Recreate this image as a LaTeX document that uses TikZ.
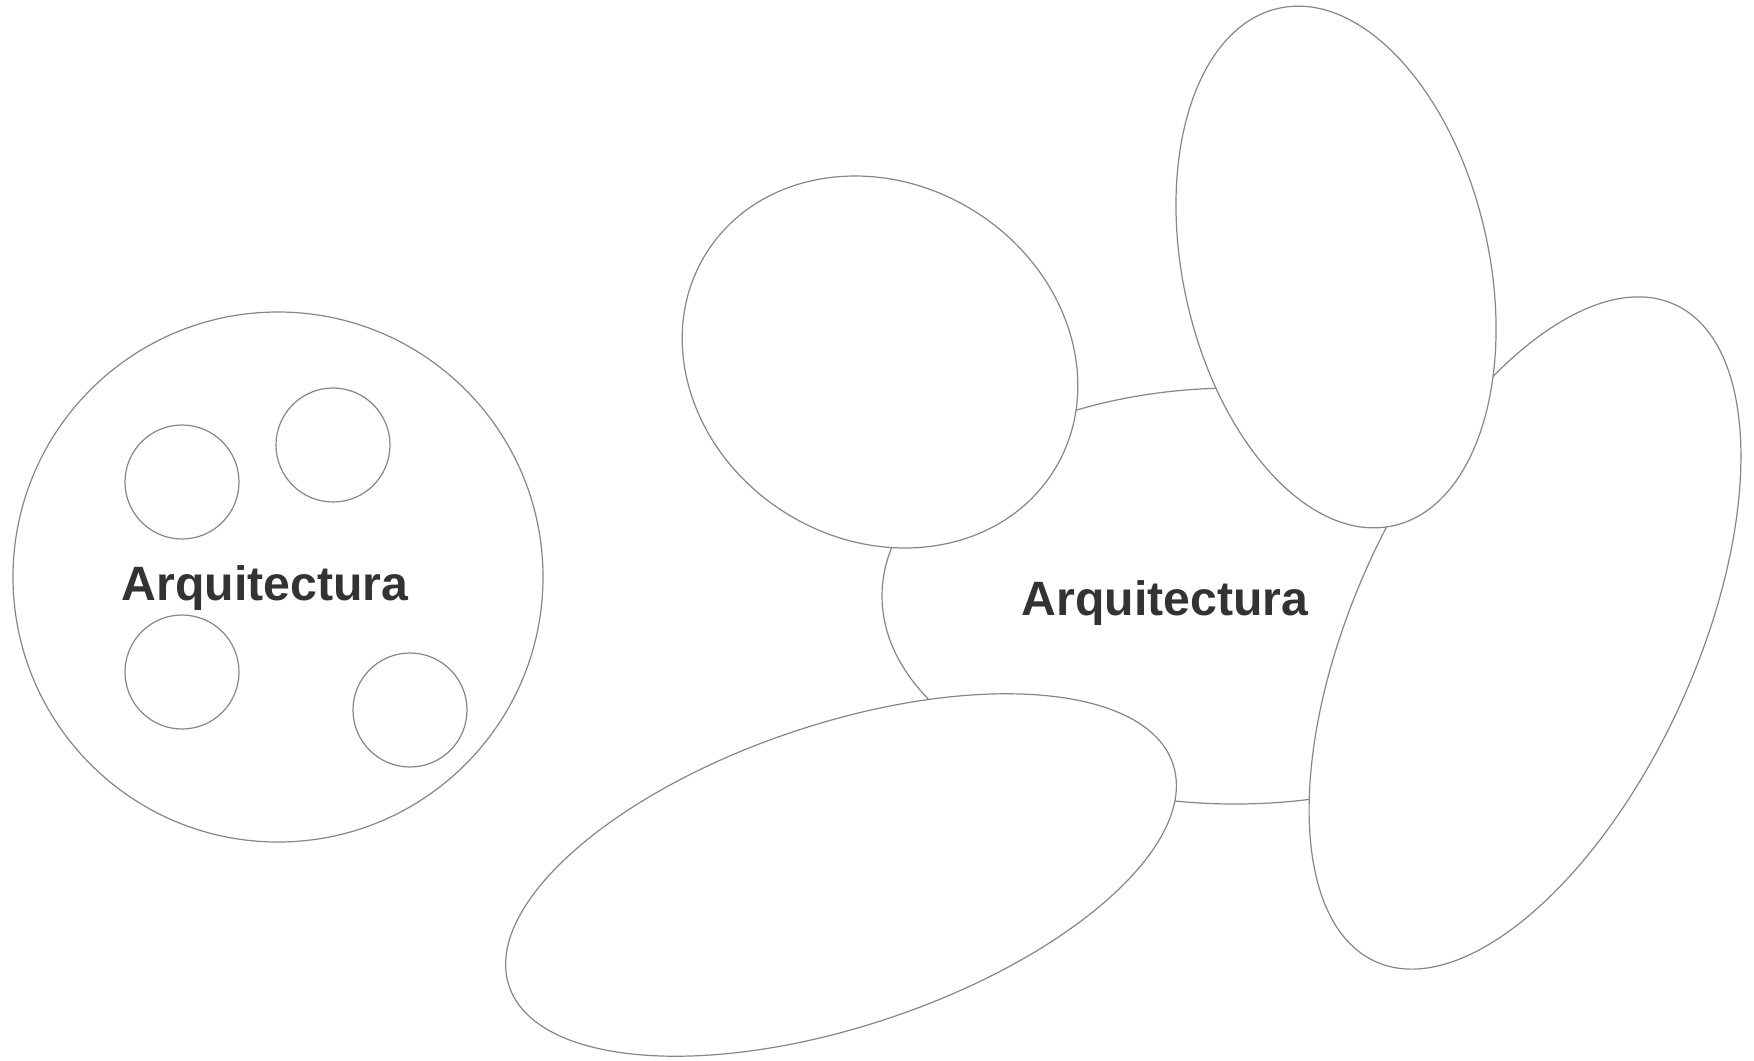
\documentclass[tikz,border=0pt]{standalone}
\usepackage{fontspec}
\setmainfont{Liberation Sans}
\definecolor{linegray}{HTML}{868686}
\definecolor{textgray}{HTML}{333333}
\tikzset{
  shape line/.style={draw=linegray, line width=0.6pt, fill=white},
  label text/.style={font=\fontsize{24.1}{29}\selectfont\bfseries, text=textgray, anchor=base, inner sep=0pt}
}
\begin{document}
\begin{tikzpicture}[x=0.5pt,y=0.5pt]
\useasboundingbox (0,0) rectangle (1754,-1060);
% left group
\draw[shape line] (278,-577) circle [radius=265];
\draw[shape line] (182,-482) circle [radius=57];
\draw[shape line] (333,-445) circle [radius=57];
\draw[shape line] (182,-672) circle [radius=57];
\draw[shape line] (410,-710) circle [radius=57];
\node[label text] (leftlabel) at (265,-600) {Arquitectura};
% right group
\draw[shape line] (1235,-596) ellipse [x radius=353, y radius=208];
\draw[shape line, rotate around={65.5:(1525,-633)}] (1525,-633) ellipse [x radius=361, y radius=171];
\draw[shape line, rotate around={12.5:(1336,-267)}] (1336,-267) ellipse [x radius=153, y radius=265];
\draw[shape line, rotate around={-32:(880,-362)}] (880,-362) ellipse [x radius=205, y radius=178];
\draw[shape line, rotate around={18.5:(841,-875)}] (841,-875) ellipse [x radius=350, y radius=151];
\node[label text] (rightlabel) at (1165,-615) {Arquitectura};
\end{tikzpicture}
\end{document}
